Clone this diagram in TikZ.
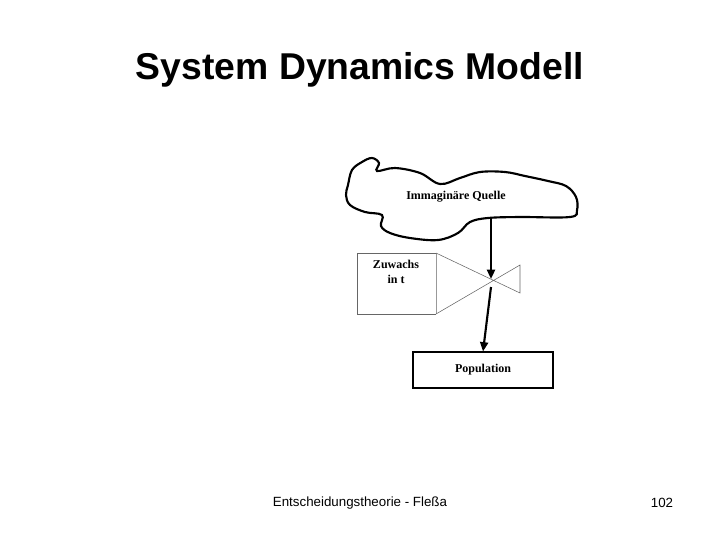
\documentclass[tikz,border=0pt]{standalone}
\usepackage{fontspec}
\setmainfont{Liberation Sans}
\newfontfamily\serifb{Liberation Serif}
\usetikzlibrary{arrows.meta}
\begin{document}
\begin{tikzpicture}[x=0.75pt,y=-0.75pt,
  lbl/.style={font=\serifb\bfseries\fontsize{9}{11}\selectfont},
  flow/.style={line width=1.6pt,-{Triangle[length=7pt,width=6pt]}},
  thin/.style={draw=black!60,line width=0.4pt}]
\useasboundingbox[fill=white] (0,0) rectangle (720,540);
\node (title) at (360,70) {\fontsize{28}{32}\selectfont\bfseries System Dynamics Modell};
\draw[line width=1.6pt] plot[smooth cycle,tension=0.6] coordinates{
(348,185) (352,170) (362,162) (372,158) (379,163) (377,171) (395,168) (420,173) (440,184)
(460,178) (480,172) (505,172) (525,176) (548,181) (566,186) (576,197) (577,210) (570,217)
(520,217) (488,218) (470,222) (458,233) (438,240) (410,238) (390,233) (381,226) (382,215)
(365,212) (350,205) (346,195)};
\node[lbl] (src) at (456,197) {Immaginäre Quelle};
\coordinate (srcb) at (491,218);
\coordinate (v) at (491,279);
\coordinate (vt) at (491,287);
\draw[thin] (436,253) -- (357,253) -- (357,314) -- (436,314);
\draw[thin,draw=black!40] (436,253) -- (436,314);
\node[lbl,align=center] (zw) at (396,272) {Zuwachs\\in t};
\draw[thin] (436,253) -- (520,293) -- (520,265) -- (436,314);
\node[draw,line width=0.8pt,minimum width=105pt,minimum height=27pt,lbl] (pop) at (483,370) {Population};
\draw[flow] (srcb) -- (v);
\draw[flow] (vt) -- (pop.north);
\node (foot) at (360,503) {\fontsize{10}{12}\selectfont Entscheidungstheorie - Fleßa};
\node (num) at (662,503) {\fontsize{10}{12}\selectfont 102};
\end{tikzpicture}
\end{document}
